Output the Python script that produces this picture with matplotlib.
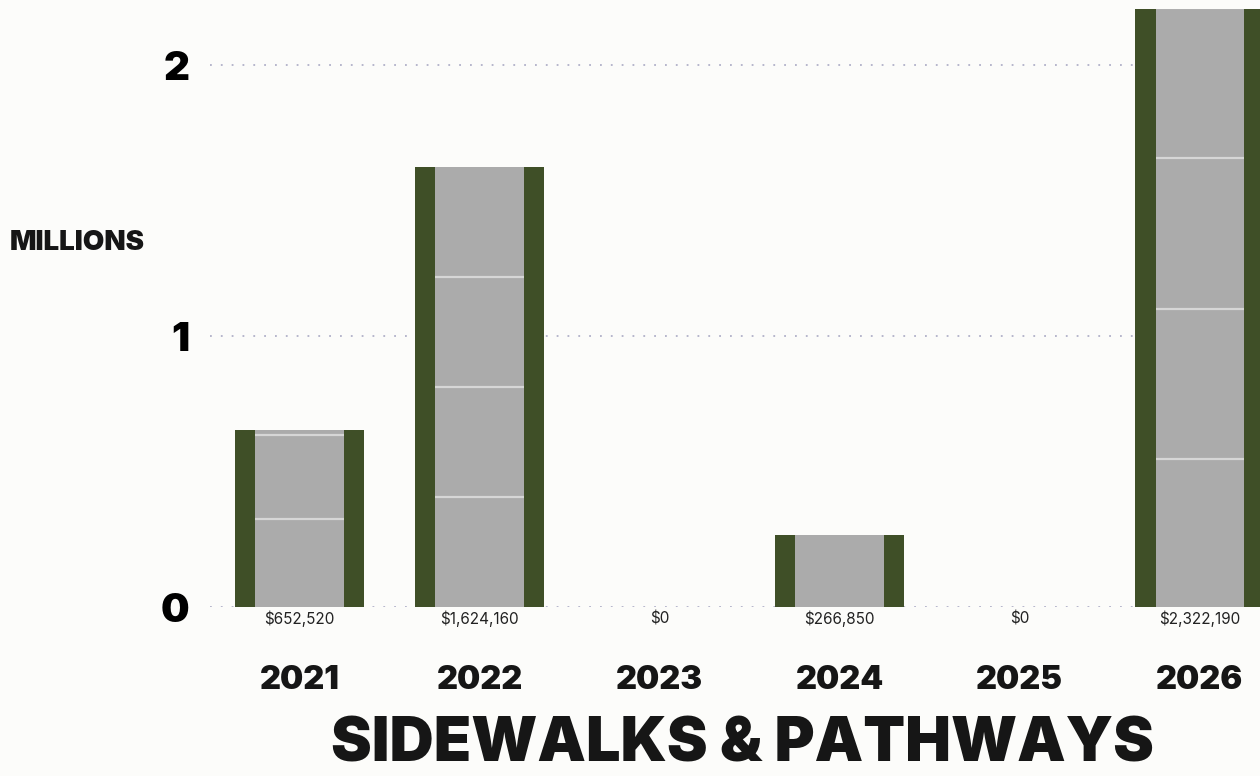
import numpy as np
import matplotlib.pyplot as plt
from matplotlib.patches import Rectangle

years = ["2021", "2022", "2023", "2024", "2025", "2026"]
amounts = [652520, 1624160, 0, 266850, 0, 2322190]
value_labels = ["$652,520", "$1,624,160", "$0", "$266,850", "$0", "$2,322,190"]
# joints across each path, as fractions of the bar height
joints = [[0.5, 0.975], [0.25, 0.5, 0.75], [], [], [], [0.235, 0.474, 0.713, 0.952]]

green = "#3f4f27"
paving = "#ababab"
bg = "#fcfcfa"

plt.rcParams['font.family'] = ['Inter', 'DejaVu Sans']

fig = plt.figure(figsize=(12.6, 7.76), dpi=100, facecolor=bg)
ax = fig.add_axes([210 / 1260, 169 / 776, 1073 / 1260, 598 / 776])
ax.set_facecolor(bg)

vals = np.array(amounts) / 1e6
x = np.arange(len(years))
width = 0.72
edge = 0.115

ax.set_xlim(-0.497, 5.463)
ax.set_ylim(0, 2.207)
ax.set_yticks([0, 1, 2])
ax.set_yticklabels(["0", "1", "2"], fontsize=29, fontweight="black")
ax.tick_params(axis="y", length=0, pad=15)
ax.set_xticks([])
for s in ax.spines.values():
    s.set_visible(False)
for g in [0, 1, 2]:
    ax.axhline(g, color="#b0b0c8", lw=1.3, ls=(0, (1, 5)), zorder=0)

for xi, v, js in zip(x, vals, joints):
    if v <= 0:
        continue
    left = xi - width / 2
    ax.add_patch(Rectangle((left, 0), width, v, facecolor=green, lw=0, zorder=2))
    ax.add_patch(Rectangle((left + edge, 0), width - 2 * edge, v,
                           facecolor=paving, lw=0, zorder=3))
    for f in js:
        ax.hlines(v * f, left + edge, left + width - edge, color="#d6d6d6",
                  lw=1.6, zorder=4)

for xi, lab, yr in zip(x, value_labels, years):
    ax.text(xi, -0.045, lab, ha="center", va="center", fontsize=11,
            color="#222222", clip_on=False)
    ax.text(xi, -0.27, yr, ha="center", va="center", fontsize=23.5,
            fontweight="black", color="#161616", clip_on=False)

fig.text(10 / 1260, 1 - 243 / 776, "MILLIONS", ha="left", va="center",
         fontsize=20, fontweight="black", color="#161616")
fig.text(742 / 1260, 1 - 746 / 776, "SIDEWALKS & PATHWAYS", ha="center",
         va="center", fontsize=44, fontweight="black", color="#161616")

fig.savefig("out.png", dpi=100, facecolor=bg)
